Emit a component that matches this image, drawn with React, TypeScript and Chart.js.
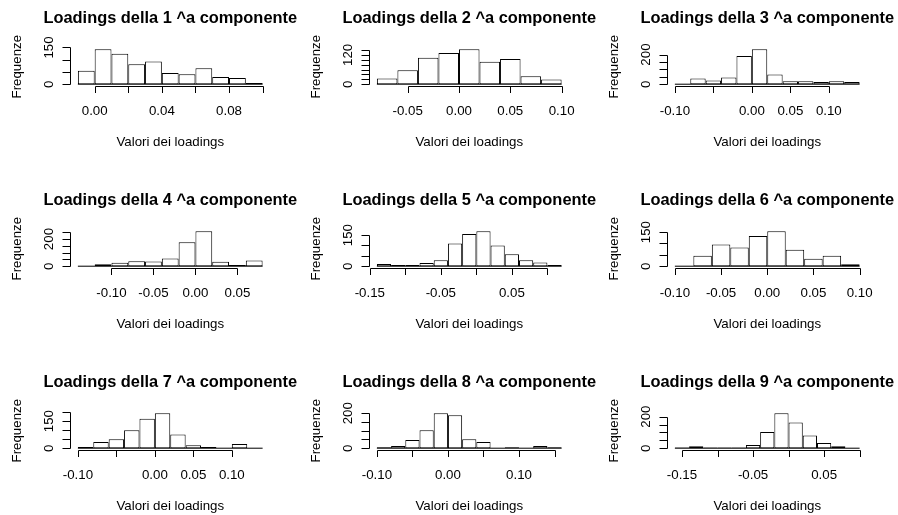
import React, { useEffect, useRef } from 'react';
import { Chart, registerables } from 'chart.js';

Chart.register(...registerables);

// ---------- data ----------
const titles = [
  'Loadings della 1 ^a componente',
  'Loadings della 2 ^a componente',
  'Loadings della 3 ^a componente',
  'Loadings della 4 ^a componente',
  'Loadings della 5 ^a componente',
  'Loadings della 6 ^a componente',
  'Loadings della 7 ^a componente',
  'Loadings della 8 ^a componente',
  'Loadings della 9 ^a componente',
];
const xAxisTitle = 'Valori dei loadings';
const yAxisTitle = 'Frequenze';

const edges1 = [-0.01, 0.0, 0.01, 0.02, 0.03, 0.04, 0.05, 0.06, 0.07, 0.08, 0.09, 0.1];
const counts1 = [55, 143, 124, 82, 93, 46, 41, 65, 29, 25, 5];
const xTicks1 = [0.0, 0.02, 0.04, 0.06, 0.08, 0.1];
const xLabels1 = ['0.00', '0.04', '0.08'];
const yTicks1 = [0, 50, 100, 150];
const yLabels1 = ['0', '150'];

const edges2 = [-0.08, -0.06, -0.04, -0.02, 0.0, 0.02, 0.04, 0.06, 0.08, 0.1];
const counts2 = [23, 57, 108, 127, 143, 92, 103, 32, 19];
const xTicks2 = [-0.05, 0.0, 0.05, 0.1];
const xLabels2 = ['-0.05', '0.00', '0.05', '0.10'];
const yTicks2 = [0, 20, 40, 60, 80, 100, 120, 140];
const yLabels2 = ['0', '120'];

const edges3 = [-0.1, -0.08, -0.06, -0.04, -0.02, 0.0, 0.02, 0.04, 0.06, 0.08, 0.1, 0.12, 0.14];
const counts3 = [2, 39, 25, 46, 190, 236, 65, 20, 20, 14, 20, 14];
const xTicks3 = [-0.1, -0.05, 0.0, 0.05, 0.1];
const xLabels3 = ['-0.10', '0.00', '0.05', '0.10'];
const yTicks3 = [0, 50, 100, 150, 200];
const yLabels3 = ['0', '200'];

const edges4 = [-0.14, -0.12, -0.1, -0.08, -0.06, -0.04, -0.02, 0.0, 0.02, 0.04, 0.06, 0.08];
const counts4 = [1, 15, 25, 37, 35, 57, 177, 258, 32, 8, 42];
const xTicks4 = [-0.1, -0.05, 0.0, 0.05];
const xLabels4 = ['-0.10', '-0.05', '0.00', '0.05'];
const yTicks4 = [0, 50, 100, 150, 200, 250];
const yLabels4 = ['0', '200'];

const edges5 = [-0.14, -0.12, -0.1, -0.08, -0.06, -0.04, -0.02, 0.0, 0.02, 0.04, 0.06, 0.08, 0.1, 0.12];
const counts5 = [11, 6, 6, 16, 29, 110, 155, 169, 100, 58, 29, 18, 6];
const xTicks5 = [-0.15, -0.1, -0.05, 0.0, 0.05, 0.1];
const xLabels5 = ['-0.15', '-0.05', '0.05'];
const yTicks5 = [0, 50, 100, 150];
const yLabels5 = ['0', '150'];

const edges6 = [-0.1, -0.08, -0.06, -0.04, -0.02, 0.0, 0.02, 0.04, 0.06, 0.08, 0.1];
const counts6 = [1, 46, 96, 82, 133, 154, 72, 33, 46, 9];
const xTicks6 = [-0.1, -0.05, 0.0, 0.05, 0.1];
const xLabels6 = ['-0.10', '-0.05', '0.00', '0.05', '0.10'];
const yTicks6 = [0, 50, 100, 150];
const yLabels6 = ['0', '150'];

const edges7 = [-0.1, -0.08, -0.06, -0.04, -0.02, 0.0, 0.02, 0.04, 0.06, 0.08, 0.1, 0.12, 0.14];
const counts7 = [6, 34, 49, 99, 163, 194, 76, 17, 6, 0, 23, 1];
const xTicks7 = [-0.1, -0.05, 0.0, 0.05, 0.1];
const xLabels7 = ['-0.10', '0.00', '0.05', '0.10'];
const yTicks7 = [0, 50, 100, 150, 200];
const yLabels7 = ['0', '150'];

const edges8 = [-0.1, -0.08, -0.06, -0.04, -0.02, 0.0, 0.02, 0.04, 0.06, 0.08, 0.1, 0.12, 0.14, 0.16];
const counts8 = [6, 12, 47, 102, 200, 188, 51, 35, 0, 6, 0, 12, 6];
const xTicks8 = [-0.1, -0.05, 0.0, 0.05, 0.1, 0.15];
const xLabels8 = ['-0.10', '0.00', '0.10'];
const yTicks8 = [0, 50, 100, 150, 200];
const yLabels8 = ['0', '200'];

const edges9 = [-0.16, -0.14, -0.12, -0.1, -0.08, -0.06, -0.04, -0.02, 0.0, 0.02, 0.04, 0.06, 0.08, 0.1];
const counts9 = [5, 12, 4, 4, 5, 20, 102, 222, 163, 80, 33, 13, 2];
const xTicks9 = [-0.15, -0.1, -0.05, 0.0, 0.05, 0.1];
const xLabels9 = ['-0.15', '-0.05', '0.05'];
const yTicks9 = [0, 50, 100, 150, 200];
const yLabels9 = ['0', '200'];

type PanelSpec = {
  title: string;
  edges: number[];
  counts: number[];
  xTicks: number[];
  xLabels: string[];
  yTicks: number[];
  yLabels: string[];
};

const panels: PanelSpec[] = [
  { title: titles[0], edges: edges1, counts: counts1, xTicks: xTicks1, xLabels: xLabels1, yTicks: yTicks1, yLabels: yLabels1 },
  { title: titles[1], edges: edges2, counts: counts2, xTicks: xTicks2, xLabels: xLabels2, yTicks: yTicks2, yLabels: yLabels2 },
  { title: titles[2], edges: edges3, counts: counts3, xTicks: xTicks3, xLabels: xLabels3, yTicks: yTicks3, yLabels: yLabels3 },
  { title: titles[3], edges: edges4, counts: counts4, xTicks: xTicks4, xLabels: xLabels4, yTicks: yTicks4, yLabels: yLabels4 },
  { title: titles[4], edges: edges5, counts: counts5, xTicks: xTicks5, xLabels: xLabels5, yTicks: yTicks5, yLabels: yLabels5 },
  { title: titles[5], edges: edges6, counts: counts6, xTicks: xTicks6, xLabels: xLabels6, yTicks: yTicks6, yLabels: yLabels6 },
  { title: titles[6], edges: edges7, counts: counts7, xTicks: xTicks7, xLabels: xLabels7, yTicks: yTicks7, yLabels: yLabels7 },
  { title: titles[7], edges: edges8, counts: counts8, xTicks: xTicks8, xLabels: xLabels8, yTicks: yTicks8, yLabels: yLabels8 },
  { title: titles[8], edges: edges9, counts: counts9, xTicks: xTicks9, xLabels: xLabels9, yTicks: yTicks9, yLabels: yLabels9 },
];

// ---------- layout / style ----------
const PANEL_W = 299;
const PANEL_H = 182;
const COL_STEP = 298.5;
const ROW_STEP = 182;
const ROW_OFFSET = -10;
const PAD = { left: 70.5, right: 29, top: 57.8, bottom: 86.4 };
const FAMILY = '"Liberation Sans", Arial, Helvetica, sans-serif';
const LABEL_PX = 13.3;
const TITLE_PX = 16.4;

function fmt(v: number, dec: number) {
  const s = v.toFixed(dec);
  return s === '-0.00' ? '0.00' : s;
}

function makeRAxes(p: PanelSpec) {
  return {
    id: 'rAxes',
    afterDraw(chart: any) {
      const { ctx, chartArea: ca, scales } = chart;
      const xs = scales.x;
      const ys = scales.y;
      const crisp = (v: number) => Math.round(v) + 0.5;
      ctx.save();
      ctx.strokeStyle = '#000';
      ctx.fillStyle = '#000';
      ctx.lineWidth = 1;

      // x axis (R style: from first to last tick)
      const xb = crisp(ca.bottom);
      const xp = p.xTicks.map((v) => crisp(xs.getPixelForValue(v)));
      ctx.beginPath();
      ctx.moveTo(xp[0], xb);
      ctx.lineTo(xp[xp.length - 1], xb);
      xp.forEach((px) => {
        ctx.moveTo(px, xb);
        ctx.lineTo(px, xb + 6.5);
      });
      ctx.stroke();

      ctx.font = `${LABEL_PX}px ${FAMILY}`;
      ctx.textAlign = 'center';
      ctx.textBaseline = 'alphabetic';
      p.xTicks.forEach((v) => {
        const s = fmt(v, 2);
        if (p.xLabels.includes(s)) ctx.fillText(s, xs.getPixelForValue(v), ca.bottom + 29.6);
      });

      // y axis
      const yl = crisp(ca.left) - 1;
      const yp = p.yTicks.map((v) => crisp(ys.getPixelForValue(v)));
      ctx.beginPath();
      ctx.moveTo(yl, yp[0]);
      ctx.lineTo(yl, yp[yp.length - 1]);
      yp.forEach((py) => {
        ctx.moveTo(yl, py);
        ctx.lineTo(yl - 8, py);
      });
      ctx.stroke();

      p.yTicks.forEach((v) => {
        const s = String(v);
        if (!p.yLabels.includes(s)) return;
        ctx.save();
        ctx.translate(ca.left - 17.3, ys.getPixelForValue(v));
        ctx.rotate(-Math.PI / 2);
        ctx.fillText(s, 0, 0);
        ctx.restore();
      });

      // axis titles
      const cx = (ca.left + ca.right) / 2;
      const cy = (ca.top + ca.bottom) / 2;
      ctx.fillText(xAxisTitle, cx, ca.bottom + 60.4);
      ctx.save();
      ctx.translate(ca.left - 49.5, cy);
      ctx.rotate(-Math.PI / 2);
      ctx.fillText(yAxisTitle, 0, 0);
      ctx.restore();

      // main title
      ctx.font = `bold ${TITLE_PX}px ${FAMILY}`;
      ctx.fillText(p.title, cx, ca.top - 25.1);
      ctx.restore();
    },
  };
}

function Panel({ spec, left, top }: { spec: PanelSpec; left: number; top: number }) {
  const ref = useRef<HTMLCanvasElement | null>(null);
  useEffect(() => {
    if (!ref.current) return;
    const e = spec.edges;
    const lo = e[0];
    const hi = e[e.length - 1];
    const xr = hi - lo;
    const maxC = Math.max(...spec.counts);
    const barData = spec.counts.map((c, i) => ({ x: (e[i] + e[i + 1]) / 2, y: c }));
    const chart = new Chart(ref.current, {
      type: 'bar',
      data: {
        datasets: [
          {
            type: 'bar',
            data: barData as any,
            backgroundColor: '#ffffff',
            borderColor: '#000000',
            borderWidth: 1,
            borderSkipped: false,
            barPercentage: 1,
            categoryPercentage: 1,
            inflateAmount: 0,
          } as any,
          {
            type: 'line',
            data: [
              { x: lo, y: 0 },
              { x: hi, y: 0 },
            ] as any,
            borderColor: '#000000',
            borderWidth: 1,
            pointRadius: 0,
            fill: false,
          } as any,
        ],
      },
      options: {
        animation: false,
        responsive: true,
        maintainAspectRatio: false,
        devicePixelRatio: 1,
        layout: { padding: PAD },
        plugins: {
          legend: { display: false },
          title: { display: false },
          tooltip: { enabled: false },
        },
        scales: {
          x: {
            type: 'linear',
            display: false,
            offset: false,
            min: lo - 0.04 * xr,
            max: hi + 0.04 * xr,
            afterBuildTicks: (s: any) => {
              s.ticks = e.map((v) => ({ value: v }));
            },
          },
          y: {
            type: 'linear',
            display: false,
            min: -0.04 * maxC,
            max: 1.04 * maxC,
          },
        },
      } as any,
      plugins: [makeRAxes(spec)],
    });
    return () => chart.destroy();
  }, [spec]);
  return (
    <div style={{ position: 'absolute', left, top, width: PANEL_W, height: PANEL_H }}>
      <canvas ref={ref} />
    </div>
  );
}

export default function App() {
  return (
    <div
      style={{
        position: 'absolute',
        left: 0,
        top: 0,
        width: 898,
        height: 515,
        overflow: 'hidden',
        background: '#ffffff',
      }}
    >
      {panels.map((p, i) => (
        <Panel
          key={i}
          spec={p}
          left={Math.round((i % 3) * COL_STEP)}
          top={Math.floor(i / 3) * ROW_STEP + ROW_OFFSET}
        />
      ))}
    </div>
  );
}
